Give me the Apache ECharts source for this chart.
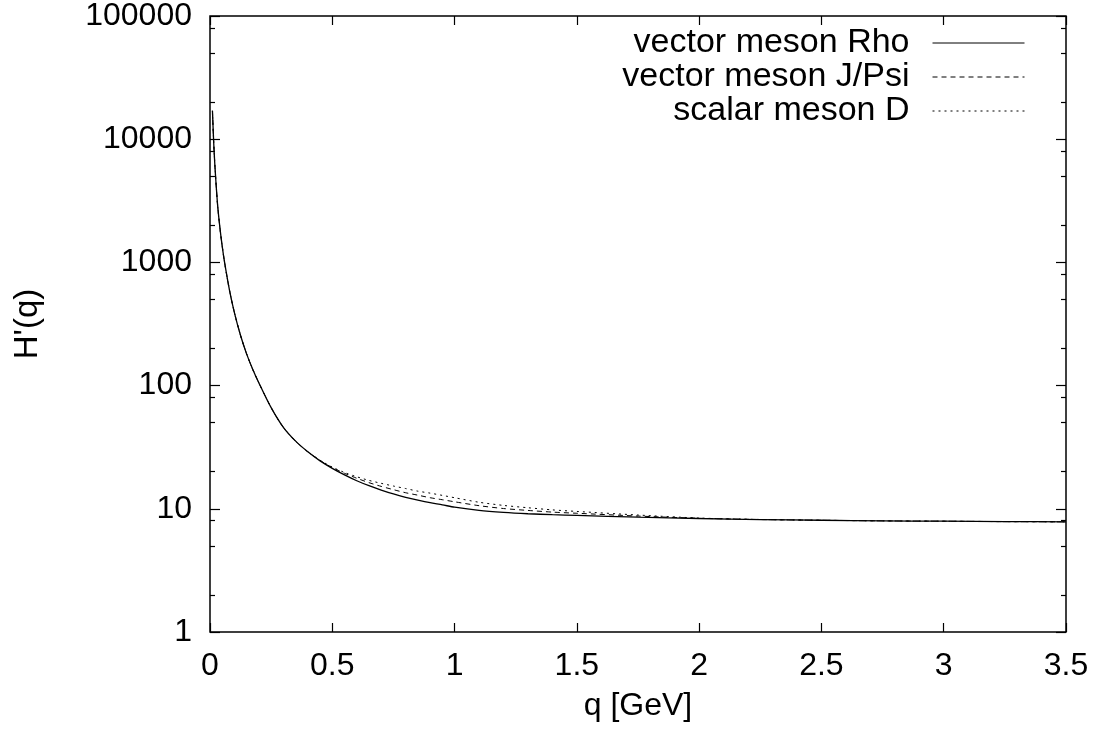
<!DOCTYPE html>
<html>
<head>
<meta charset="utf-8">
<script src="https://cdn.jsdelivr.net/npm/echarts@6/dist/echarts.min.js"></script>
<style>html,body{margin:0;padding:0;background:#fff;}#c{width:1112px;height:740px;}</style>
</head>
<body>
<div id="c"></div>
<script>
const q = [0.01,0.015,0.02,0.03,0.04,0.05,0.06,0.08,0.1,0.125,0.15,0.175,0.2,0.25,0.3,0.35,0.4,0.45,0.5,0.55,0.6,0.65,0.7,0.75,0.8,0.85,0.9,0.95,1.0,1.1,1.2,1.3,1.4,1.5,1.75,2.0,2.25,2.5,2.75,3.0,3.25,3.5];
const rho  = [17000,9500,6100,3100,1950,1350,990,590,390,255,180,135,105,66.2,45.8,35.4,29.0,24.5,21.3,18.84,16.9,15.4,14.2,13.2,12.4,11.75,11.2,10.77,10.3,9.7,9.35,9.12,8.96,8.83,8.55,8.34,8.18,8.07,7.98,7.93,7.87,7.84];
const jpsi = [17000,9500,6100,3100,1950,1350,990,590,390,255,180,135,105,66.2,45.8,35.4,29.0,24.7,21.6,19.4,17.7,16.3,15.2,14.3,13.5,12.9,12.3,11.85,11.4,10.6,10.05,9.7,9.4,9.2,8.73,8.38,8.18,8.07,7.98,7.93,7.87,7.84];
const dmes = [17000,9500,6100,3100,1950,1350,990,590,390,255,180,135,105,66.2,45.8,35.4,29.0,24.8,21.8,19.7,18.2,17.0,16.1,15.3,14.6,13.9,13.4,12.85,12.3,11.3,10.65,10.2,9.8,9.52,8.9,8.41,8.19,8.07,7.98,7.93,7.87,7.84];
const seriesNames = ['vector meson Rho','vector meson J/Psi','scalar meson D'];
const yMajor = [1,10,100,1000,10000,100000];
const yMinor = [2,5,8,20,50,80,200,500,800,2000,5000,8000,20000,50000,80000];

const font = 'Liberation Sans, Arial, Helvetica, sans-serif';
const chart = echarts.init(document.getElementById('c'), null, {renderer:'canvas'});
const pairs = arr => q.map((x,i)=>[x, arr[i]]);
const yBase = {type:'log', logBase:10, min:1, max:100000, splitLine:{show:false}, axisLine:{show:false}};
const xBase = {type:'value', min:0, max:3.5, interval:0.5, splitLine:{show:false}, axisLine:{show:false}};
chart.setOption({
  animation:false,
  backgroundColor:'#fff',
  grid:{left:210, right:46, top:16, bottom:108, show:true, borderColor:'#000', borderWidth:1.5, backgroundColor:'transparent'},
  legend:{
    orient:'vertical', right:82, top:21, align:'right', itemWidth:92, itemHeight:12, itemGap:0,
    itemStyle:{opacity:0},
    lineStyle:{width:1},
    textStyle:{fontFamily:font, fontSize:34, color:'#000', lineHeight:33, padding:[0,18,0,0]},
    data:seriesNames.map(n=>({name:n}))
  },
  xAxis:[
    Object.assign({}, xBase, {position:'bottom', name:'q [GeV]', nameLocation:'middle', nameGap:58,
      nameTextStyle:{fontFamily:font, fontSize:32, color:'#000'},
      axisTick:{show:true, inside:true, length:9, lineStyle:{color:'#000', width:1.2}},
      axisLabel:{fontFamily:font, fontSize:32, color:'#000', margin:18, formatter:v=>String(v)}}),
    Object.assign({}, xBase, {position:'top',
      axisTick:{show:true, inside:true, length:9, lineStyle:{color:'#000', width:1.2}},
      axisLabel:{show:false}})
  ],
  yAxis:[
    Object.assign({}, yBase, {position:'left', name:"H'(q)", nameLocation:'middle', nameGap:166,
      nameTextStyle:{fontFamily:font, fontSize:33, color:'#000'},
      axisTick:{show:true, inside:true, length:10, customValues:yMajor, lineStyle:{color:'#000', width:1.2}},
      axisLabel:{fontFamily:font, fontSize:32, color:'#000', margin:18, customValues:yMajor, formatter:v=>String(Math.round(v))}}),
    Object.assign({}, yBase, {position:'left',
      axisTick:{show:true, inside:true, length:5, customValues:yMinor, lineStyle:{color:'#000', width:1.2}},
      axisLabel:{show:false}}),
    Object.assign({}, yBase, {position:'right',
      axisTick:{show:true, inside:true, length:10, customValues:yMajor, lineStyle:{color:'#000', width:1.2}},
      axisLabel:{show:false}}),
    Object.assign({}, yBase, {position:'right',
      axisTick:{show:true, inside:true, length:5, customValues:yMinor, lineStyle:{color:'#000', width:1.2}},
      axisLabel:{show:false}})
  ],
  series:[
    {name:seriesNames[0], type:'line', data:pairs(rho), symbol:'none', smooth:0.25,
      lineStyle:{color:'#000', width:1.3, type:'solid'}, itemStyle:{color:'#000'}},
    {name:seriesNames[1], type:'line', data:pairs(jpsi), symbol:'none', smooth:0.25,
      lineStyle:{color:'#000', width:1, type:[5,4]}, itemStyle:{color:'#000'}},
    {name:seriesNames[2], type:'line', data:pairs(dmes), symbol:'none', smooth:0.25,
      lineStyle:{color:'#000', width:1, type:[2,4]}, itemStyle:{color:'#000'}}
  ]
});
</script>
</body>
</html>
